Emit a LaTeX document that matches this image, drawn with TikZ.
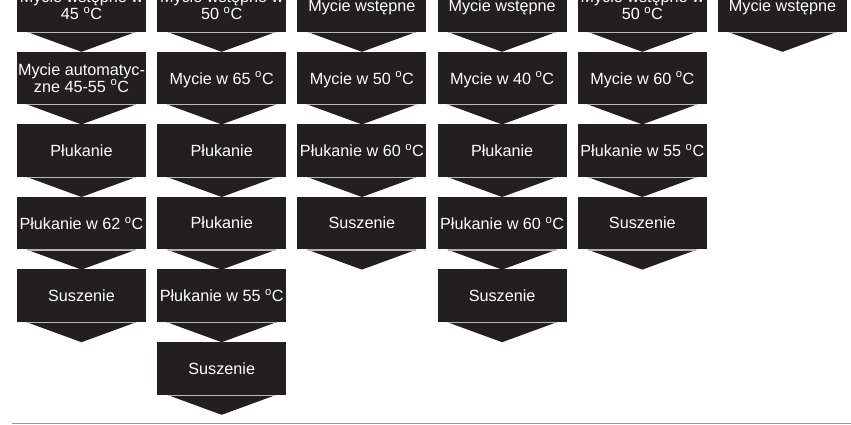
\documentclass[tikz,border=0pt]{standalone}
\usepackage{fontspec}
\setmainfont{Liberation Sans}
\usetikzlibrary{calc}
\definecolor{boxblack}{RGB}{35,31,32}
\newcommand{\degC}{ \textsuperscript{o}C}
\tikzset{
  stepbox/.style={fill=boxblack,text=white,minimum width=129pt,minimum height=52.6pt,
    inner sep=0pt,text depth=0pt,align=center,font=\fontsize{16.2}{15.2}\selectfont},
  chev/.style={fill=boxblack}
}

\begin{document}
\begin{tikzpicture}[x=1pt,y=-1pt]
  \useasboundingbox (0,0) rectangle (851,425);

  % Column 1
  \node[stepbox] (a1) at (81.5,5.3)   {Mycie wstępne w\\45\degC};
  \node[stepbox] (a2) at (81.5,77.9)  {Mycie automatyc-\\zne 45-55\degC};
  \node[stepbox] (a3) at (81.5,150.5) {Płukanie};
  \node[stepbox] (a4) at (81.5,223.1) {Płukanie w 62\degC};
  \node[stepbox] (a5) at (81.5,295.7) {Suszenie};

  % Column 2
  \node[stepbox] (b1) at (221.7,5.3)   {Mycie wstępne w\\50\degC};
  \node[stepbox] (b2) at (221.7,77.9)  {Mycie w 65\degC};
  \node[stepbox] (b3) at (221.7,150.5) {Płukanie};
  \node[stepbox] (b4) at (221.7,223.1) {Płukanie};
  \node[stepbox] (b5) at (221.7,295.7) {Płukanie w 55\degC};
  \node[stepbox] (b6) at (221.7,368.3) {Suszenie};

  % Column 3
  \node[stepbox] (c1) at (361.9,5.3)   {Mycie wstępne};
  \node[stepbox] (c2) at (361.9,77.9)  {Mycie w 50\degC};
  \node[stepbox] (c3) at (361.9,150.5) {Płukanie w 60\degC};
  \node[stepbox] (c4) at (361.9,223.1) {Suszenie};

  % Column 4
  \node[stepbox] (d1) at (502.1,5.3)   {Mycie wstępne};
  \node[stepbox] (d2) at (502.1,77.9)  {Mycie w 40\degC};
  \node[stepbox] (d3) at (502.1,150.5) {Płukanie};
  \node[stepbox] (d4) at (502.1,223.1) {Płukanie w 60\degC};
  \node[stepbox] (d5) at (502.1,295.7) {Suszenie};

  % Column 5
  \node[stepbox] (e1) at (642.3,5.3)   {Mycie wstępne w\\50\degC};
  \node[stepbox] (e2) at (642.3,77.9)  {Mycie w 60\degC};
  \node[stepbox] (e3) at (642.3,150.5) {Płukanie w 55\degC};
  \node[stepbox] (e4) at (642.3,223.1) {Suszenie};

  % Column 6
  \node[stepbox] (f1) at (782.5,5.3) {Mycie wstępne};

  % Chevrons under every box
  \foreach \n in {a1,a2,a3,a4,a5,b1,b2,b3,b4,b5,b6,c1,c2,c3,c4,
                  d1,d2,d3,d4,d5,e1,e2,e3,e4,f1}
  {
    \fill[chev] ($(\n.south west)+(10,0)$) -- ($(\n.south east)+(-10,0)$)
      -- ($(\n.south)+(0,20)$) -- cycle;
    \draw[gray!55,line width=0.5pt] ($(\n.south west)+(11,0.3)$) -- ($(\n.south east)+(-11,0.3)$);
  }

  % Bottom rule
  \draw[gray!80,line width=1.2pt] (12,423.5) -- (851,423.5);
\end{tikzpicture}
\end{document}
